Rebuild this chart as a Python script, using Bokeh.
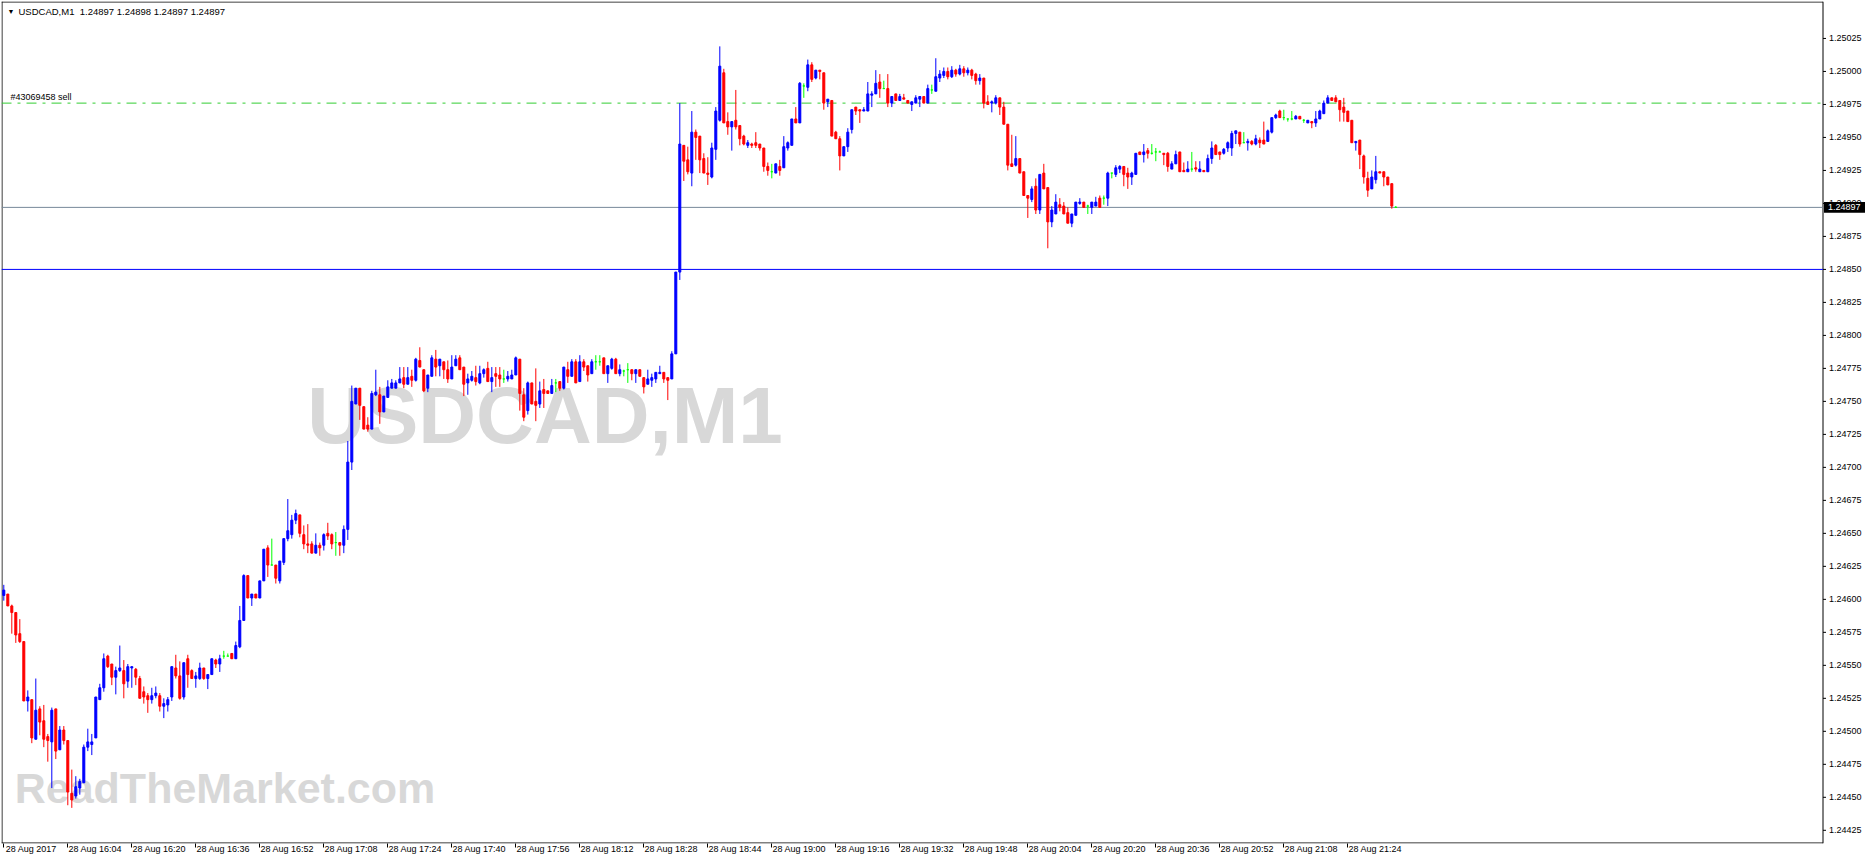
from bokeh.plotting import figure
from bokeh.models import Range1d, FixedTicker, Label, ColumnDataSource
from bokeh.core.properties import value
from bokeh.embed import file_html
from bokeh.resources import INLINE

# ---------------- data (USDCAD, M1, 28 Aug 2017, from 15:48) ----------------
opens = [
 1.24603,1.24604,1.24595,1.24590,1.24574,1.24568,1.24523,1.24524,1.24494,1.24517,
 1.24508,1.24496,1.24492,1.24517,1.24486,1.24501,1.24493,1.24453,1.24451,1.24457,
 1.24461,1.24488,1.24490,1.24495,1.24524,1.24533,1.24557,1.24551,1.24541,1.24546,
 1.24546,1.24538,1.24548,1.24547,1.24540,1.24530,1.24527,1.24524,1.24527,1.24527,
 1.24519,1.24520,1.24526,1.24548,1.24542,1.24526,1.24555,1.24546,1.24540,1.24540,
 1.24548,1.24540,1.24543,1.24554,1.24551,1.24557,1.24557,1.24559,1.24555,1.24564,
 1.24584,1.24618,1.24601,1.24604,1.24601,1.24614,1.24639,1.24626,1.24626,1.24614,
 1.24628,1.24646,1.24649,1.24660,1.24664,1.24649,1.24642,1.24642,1.24635,1.24641,
 1.24641,1.24650,1.24649,1.24643,1.24643,1.24641,1.24653,1.24704,1.24748,1.24760,
 1.24746,1.24732,1.24729,1.24755,1.24755,1.24742,1.24753,1.24760,1.24760,1.24764,
 1.24768,1.24763,1.24769,1.24766,1.24781,1.24774,1.24760,1.24769,1.24782,1.24777,
 1.24780,1.24774,1.24767,1.24777,1.24783,1.24776,1.24764,1.24766,1.24768,1.24764,
 1.24771,1.24775,1.24765,1.24771,1.24770,1.24767,1.24767,1.24767,1.24770,1.24782,
 1.24755,1.24743,1.24764,1.24750,1.24748,1.24759,1.24758,1.24756,1.24764,1.24765,
 1.24760,1.24774,1.24769,1.24780,1.24765,1.24780,1.24777,1.24771,1.24780,1.24780,
 1.24783,1.24771,1.24775,1.24782,1.24771,1.24773,1.24774,1.24774,1.24771,1.24774,
 1.24768,1.24763,1.24766,1.24767,1.24771,1.24772,1.24768,1.24767,1.24786,1.24848,
 1.24944,1.24933,1.24923,1.24954,1.24951,1.24934,1.24923,1.24920,1.24941,1.24963,
 1.24999,1.24962,1.24958,1.24963,1.24959,1.24951,1.24944,1.24945,1.24946,1.24945,
 1.24942,1.24928,1.24924,1.24923,1.24928,1.24927,1.24942,1.24944,1.24964,1.24961,
 1.24989,1.24988,1.25005,1.24995,1.25001,1.24999,1.24977,1.24978,1.24954,1.24949,
 1.24936,1.24943,1.24956,1.24973,1.24971,1.24970,1.24970,1.24982,1.24983,1.24992,
 1.24987,1.24987,1.24976,1.24983,1.24978,1.24980,1.24978,1.24975,1.24976,1.24979,
 1.24981,1.24976,1.24986,1.24985,1.24995,1.24997,1.25000,1.24996,1.25001,1.24998,
 1.25002,1.24999,1.25001,1.24998,1.24993,1.24995,1.24977,1.24976,1.24976,1.24980,
 1.24973,1.24960,1.24930,1.24929,1.24934,1.24924,1.24906,1.24903,1.24913,1.24895,
 1.24923,1.24912,1.24886,1.24892,1.24899,1.24898,1.24893,1.24885,1.24891,1.24900,
 1.24901,1.24898,1.24897,1.24898,1.24904,1.24904,1.24904,1.24923,1.24922,1.24926,
 1.24928,1.24923,1.24920,1.24922,1.24939,1.24937,1.24940,1.24938,1.24939,1.24939,
 1.24938,1.24938,1.24926,1.24930,1.24939,1.24925,1.24924,1.24926,1.24927,1.24924,
 1.24925,1.24924,1.24934,1.24944,1.24939,1.24938,1.24942,1.24942,1.24953,1.24954,
 1.24946,1.24946,1.24947,1.24945,1.24948,1.24948,1.24947,1.24954,1.24965,1.24970,
 1.24965,1.24964,1.24964,1.24964,1.24966,1.24963,1.24961,1.24962,1.24961,1.24964,
 1.24968,1.24976,1.24980,1.24980,1.24978,1.24973,1.24970,1.24963,1.24946,1.24948,
 1.24936,1.24919,1.24911,1.24918,1.24924,1.24924,1.24920,1.24915,1.24897]

highs = [
 1.24611,1.24604,1.24596,1.24590,1.24585,1.24568,1.24531,1.24524,1.24540,1.24519,
 1.24520,1.24498,1.24518,1.24517,1.24504,1.24504,1.24493,1.24471,1.24466,1.24464,
 1.24490,1.24502,1.24498,1.24526,1.24536,1.24559,1.24558,1.24551,1.24549,1.24565,
 1.24554,1.24551,1.24549,1.24548,1.24542,1.24534,1.24529,1.24533,1.24534,1.24529,
 1.24525,1.24526,1.24549,1.24558,1.24553,1.24552,1.24558,1.24547,1.24545,1.24552,
 1.24548,1.24543,1.24555,1.24555,1.24558,1.24561,1.24559,1.24559,1.24568,1.24595,
 1.24619,1.24618,1.24604,1.24604,1.24614,1.24638,1.24641,1.24646,1.24626,1.24629,
 1.24646,1.24676,1.24664,1.24668,1.24664,1.24656,1.24657,1.24644,1.24650,1.24643,
 1.24650,1.24658,1.24650,1.24651,1.24643,1.24656,1.24720,1.24762,1.24760,1.24760,
 1.24746,1.24738,1.24758,1.24774,1.24761,1.24754,1.24766,1.24767,1.24766,1.24776,
 1.24776,1.24776,1.24774,1.24783,1.24791,1.24774,1.24770,1.24785,1.24789,1.24782,
 1.24780,1.24781,1.24785,1.24785,1.24785,1.24776,1.24771,1.24773,1.24777,1.24777,
 1.24775,1.24780,1.24776,1.24776,1.24776,1.24774,1.24773,1.24774,1.24784,1.24782,
 1.24760,1.24765,1.24764,1.24775,1.24765,1.24767,1.24758,1.24767,1.24767,1.24765,
 1.24776,1.24780,1.24782,1.24782,1.24785,1.24782,1.24777,1.24782,1.24785,1.24785,
 1.24783,1.24777,1.24783,1.24783,1.24778,1.24774,1.24779,1.24774,1.24774,1.24774,
 1.24768,1.24774,1.24771,1.24772,1.24777,1.24772,1.24768,1.24788,1.24848,1.24976,
 1.24944,1.24943,1.24970,1.24956,1.24951,1.24938,1.24935,1.24946,1.24973,1.25019,
 1.25002,1.24969,1.24962,1.24986,1.24959,1.24952,1.24948,1.24946,1.24954,1.24945,
 1.24942,1.24931,1.24930,1.24930,1.24933,1.24951,1.24947,1.24964,1.24973,1.24992,
 1.24991,1.25009,1.25007,1.25001,1.25001,1.24999,1.24979,1.24978,1.24955,1.24951,
 1.24943,1.24957,1.24971,1.24973,1.24971,1.24973,1.24992,1.24985,1.25001,1.24998,
 1.24993,1.24998,1.24981,1.24983,1.24983,1.24983,1.24978,1.24977,1.24982,1.24981,
 1.24981,1.24990,1.24990,1.25010,1.25001,1.25003,1.25003,1.25004,1.25002,1.25005,
 1.25004,1.25003,1.25002,1.24999,1.24998,1.24995,1.24982,1.24978,1.24982,1.24980,
 1.24977,1.24960,1.24952,1.24951,1.24934,1.24924,1.24906,1.24913,1.24919,1.24922,
 1.24930,1.24912,1.24898,1.24907,1.24904,1.24901,1.24897,1.24892,1.24901,1.24904,
 1.24901,1.24899,1.24901,1.24905,1.24906,1.24906,1.24924,1.24923,1.24929,1.24929,
 1.24928,1.24927,1.24924,1.24938,1.24939,1.24945,1.24942,1.24945,1.24942,1.24940,
 1.24938,1.24939,1.24932,1.24940,1.24939,1.24931,1.24932,1.24939,1.24932,1.24932,
 1.24925,1.24937,1.24947,1.24945,1.24939,1.24942,1.24947,1.24955,1.24955,1.24954,
 1.24954,1.24949,1.24948,1.24952,1.24950,1.24962,1.24956,1.24965,1.24968,1.24971,
 1.24971,1.24964,1.24970,1.24967,1.24966,1.24964,1.24963,1.24962,1.24970,1.24971,
 1.24978,1.24982,1.24980,1.24982,1.24978,1.24980,1.24970,1.24963,1.24947,1.24948,
 1.24937,1.24924,1.24925,1.24936,1.24924,1.24924,1.24920,1.24915,1.24898]

lows = [
 1.24599,1.24595,1.24574,1.24567,1.24567,1.24523,1.24515,1.24491,1.24494,1.24497,
 1.24488,1.24477,1.24457,1.24479,1.24486,1.24490,1.24444,1.24442,1.24449,1.24452,
 1.24461,1.24485,1.24482,1.24495,1.24524,1.24530,1.24548,1.24535,1.24528,1.24545,
 1.24525,1.24533,1.24533,1.24535,1.24525,1.24521,1.24514,1.24521,1.24525,1.24515,
 1.24510,1.24515,1.24523,1.24540,1.24524,1.24524,1.24533,1.24540,1.24533,1.24539,
 1.24539,1.24532,1.24543,1.24548,1.24545,1.24555,1.24557,1.24555,1.24555,1.24563,
 1.24584,1.24601,1.24595,1.24601,1.24601,1.24614,1.24617,1.24626,1.24612,1.24612,
 1.24626,1.24644,1.24646,1.24657,1.24647,1.24638,1.24635,1.24635,1.24635,1.24633,
 1.24637,1.24645,1.24638,1.24633,1.24633,1.24635,1.24645,1.24698,1.24748,1.24736,
 1.24729,1.24727,1.24729,1.24754,1.24733,1.24742,1.24753,1.24760,1.24760,1.24764,
 1.24760,1.24763,1.24761,1.24765,1.24776,1.24757,1.24757,1.24769,1.24769,1.24769,
 1.24767,1.24764,1.24767,1.24777,1.24774,1.24754,1.24755,1.24765,1.24762,1.24763,
 1.24768,1.24765,1.24757,1.24761,1.24761,1.24764,1.24765,1.24767,1.24770,1.24743,
 1.24735,1.24740,1.24748,1.24735,1.24745,1.24745,1.24756,1.24756,1.24757,1.24758,
 1.24759,1.24764,1.24769,1.24764,1.24765,1.24773,1.24765,1.24771,1.24774,1.24777,
 1.24771,1.24764,1.24774,1.24771,1.24769,1.24769,1.24764,1.24766,1.24764,1.24769,
 1.24756,1.24763,1.24761,1.24764,1.24771,1.24764,1.24751,1.24767,1.24786,1.24842,
 1.24917,1.24922,1.24913,1.24933,1.24923,1.24923,1.24914,1.24919,1.24933,1.24962,
 1.24961,1.24952,1.24940,1.24956,1.24944,1.24944,1.24942,1.24942,1.24942,1.24940,
 1.24924,1.24921,1.24919,1.24923,1.24921,1.24927,1.24940,1.24944,1.24961,1.24961,
 1.24980,1.24985,1.24992,1.24994,1.24994,1.24971,1.24973,1.24951,1.24949,1.24925,
 1.24936,1.24939,1.24953,1.24967,1.24961,1.24970,1.24970,1.24973,1.24983,1.24980,
 1.24987,1.24973,1.24973,1.24978,1.24978,1.24979,1.24976,1.24970,1.24976,1.24973,
 1.24976,1.24976,1.24983,1.24985,1.24992,1.24995,1.24994,1.24995,1.24996,1.24997,
 1.24996,1.24997,1.24994,1.24990,1.24990,1.24972,1.24975,1.24969,1.24975,1.24967,
 1.24960,1.24925,1.24928,1.24928,1.24923,1.24906,1.24889,1.24901,1.24892,1.24892,
 1.24911,1.24866,1.24882,1.24892,1.24894,1.24892,1.24885,1.24882,1.24891,1.24899,
 1.24897,1.24892,1.24892,1.24898,1.24897,1.24899,1.24898,1.24919,1.24920,1.24923,
 1.24913,1.24911,1.24914,1.24922,1.24937,1.24931,1.24934,1.24937,1.24932,1.24939,
 1.24929,1.24924,1.24926,1.24930,1.24924,1.24924,1.24924,1.24924,1.24924,1.24924,
 1.24924,1.24924,1.24930,1.24937,1.24933,1.24937,1.24939,1.24936,1.24945,1.24943,
 1.24946,1.24940,1.24944,1.24944,1.24942,1.24945,1.24947,1.24953,1.24964,1.24965,
 1.24963,1.24962,1.24963,1.24964,1.24964,1.24961,1.24961,1.24957,1.24958,1.24964,
 1.24968,1.24976,1.24978,1.24977,1.24962,1.24962,1.24962,1.24946,1.24940,1.24926,
 1.24915,1.24905,1.24911,1.24915,1.24923,1.24913,1.24914,1.24896,1.24897]

closes = [
 1.24607,1.24595,1.24590,1.24573,1.24568,1.24523,1.24526,1.24495,1.24516,1.24507,
 1.24494,1.24493,1.24516,1.24485,1.24501,1.24493,1.24454,1.24448,1.24458,1.24462,
 1.24488,1.24492,1.24492,1.24526,1.24533,1.24555,1.24549,1.24541,1.24546,1.24548,
 1.24536,1.24549,1.24549,1.24541,1.24525,1.24526,1.24524,1.24527,1.24529,1.24519,
 1.24521,1.24524,1.24549,1.24542,1.24525,1.24552,1.24543,1.24540,1.24542,1.24548,
 1.24540,1.24543,1.24555,1.24551,1.24555,1.24557,1.24557,1.24555,1.24565,1.24584,
 1.24618,1.24601,1.24604,1.24601,1.24614,1.24638,1.24626,1.24626,1.24616,1.24629,
 1.24646,1.24652,1.24660,1.24665,1.24650,1.24642,1.24641,1.24635,1.24641,1.24639,
 1.24649,1.24648,1.24642,1.24643,1.24641,1.24653,1.24704,1.24750,1.24760,1.24747,
 1.24729,1.24729,1.24756,1.24757,1.24742,1.24754,1.24761,1.24764,1.24764,1.24767,
 1.24763,1.24768,1.24766,1.24782,1.24776,1.24758,1.24770,1.24783,1.24776,1.24782,
 1.24774,1.24767,1.24776,1.24782,1.24774,1.24763,1.24767,1.24769,1.24765,1.24771,
 1.24774,1.24765,1.24768,1.24769,1.24767,1.24767,1.24769,1.24770,1.24783,1.24756,
 1.24738,1.24764,1.24748,1.24747,1.24758,1.24756,1.24756,1.24762,1.24764,1.24760,
 1.24776,1.24769,1.24780,1.24764,1.24780,1.24776,1.24770,1.24780,1.24780,1.24780,
 1.24771,1.24777,1.24782,1.24771,1.24774,1.24773,1.24774,1.24771,1.24774,1.24769,
 1.24761,1.24767,1.24768,1.24772,1.24772,1.24767,1.24766,1.24786,1.24848,1.24945,
 1.24932,1.24924,1.24954,1.24950,1.24933,1.24923,1.24922,1.24942,1.24970,1.25004,
 1.24961,1.24958,1.24962,1.24958,1.24949,1.24945,1.24946,1.24944,1.24944,1.24942,
 1.24928,1.24925,1.24924,1.24930,1.24925,1.24943,1.24946,1.24964,1.24961,1.24991,
 1.24989,1.25005,1.24994,1.25001,1.25000,1.24976,1.24979,1.24951,1.24949,1.24936,
 1.24943,1.24954,1.24971,1.24970,1.24970,1.24971,1.24983,1.24983,1.24991,1.24987,
 1.24987,1.24976,1.24981,1.24978,1.24981,1.24979,1.24976,1.24977,1.24980,1.24981,
 1.24976,1.24987,1.24986,1.24996,1.24998,1.25000,1.24996,1.25001,1.24998,1.25002,
 1.24999,1.25001,1.24997,1.24993,1.24995,1.24976,1.24975,1.24977,1.24980,1.24973,
 1.24960,1.24929,1.24928,1.24934,1.24923,1.24906,1.24904,1.24911,1.24895,1.24922,
 1.24911,1.24886,1.24895,1.24901,1.24897,1.24892,1.24885,1.24892,1.24901,1.24901,
 1.24897,1.24898,1.24901,1.24901,1.24897,1.24904,1.24923,1.24923,1.24927,1.24928,
 1.24922,1.24920,1.24923,1.24938,1.24937,1.24939,1.24938,1.24938,1.24939,1.24939,
 1.24937,1.24928,1.24930,1.24937,1.24924,1.24924,1.24926,1.24926,1.24926,1.24926,
 1.24924,1.24934,1.24942,1.24937,1.24937,1.24941,1.24946,1.24953,1.24955,1.24945,
 1.24946,1.24947,1.24945,1.24949,1.24946,1.24945,1.24955,1.24965,1.24967,1.24965,
 1.24965,1.24964,1.24964,1.24966,1.24964,1.24963,1.24963,1.24961,1.24964,1.24970,
 1.24976,1.24980,1.24978,1.24977,1.24971,1.24969,1.24962,1.24946,1.24947,1.24937,
 1.24920,1.24910,1.24920,1.24924,1.24923,1.24920,1.24914,1.24898,1.24897]

time_labels = ["28 Aug 2017", "28 Aug 16:04", "28 Aug 16:20", "28 Aug 16:36", "28 Aug 16:52",
               "28 Aug 17:08", "28 Aug 17:24", "28 Aug 17:40", "28 Aug 17:56", "28 Aug 18:12",
               "28 Aug 18:28", "28 Aug 18:44", "28 Aug 19:00", "28 Aug 19:16", "28 Aug 19:32",
               "28 Aug 19:48", "28 Aug 20:04", "28 Aug 20:20", "28 Aug 20:36", "28 Aug 20:52",
               "28 Aug 21:08", "28 Aug 21:24"]
bars_per_label = 16

price_ticks = [1.24425, 1.24450, 1.24475, 1.24500, 1.24525, 1.24550, 1.24575, 1.24600,
               1.24625, 1.24650, 1.24675, 1.24700, 1.24725, 1.24750, 1.24775, 1.24800,
               1.24825, 1.24850, 1.24875, 1.24900, 1.24925, 1.24950, 1.24975, 1.25000, 1.25025]

order_level = 1.24976      # "#43069458 sell"
bid_level = 1.24897        # current price line
hline_level = 1.24850      # horizontal line
title_text = "USDCAD,M1\u00a0\u00a01.24897 1.24898 1.24897 1.24897"
order_text = "#43069458 sell"
bid_text = "1.24897"

# ---------------- layout constants ----------------
W, H = 1865, 856
FRAME_LEFT = 1
PX_PER_BAR = 4.0
X0 = (FRAME_LEFT - 3.3) / PX_PER_BAR           # first candle ~3px from the left edge
X1 = X0 + (W - FRAME_LEFT) / PX_PER_BAR
X_AX = X0 + (1822.5 - FRAME_LEFT) / PX_PER_BAR  # price-scale line
FRAME_H = 843.0
Y1 = 1.25053
Y0 = 1.24415
DY = (Y1 - Y0) / FRAME_H                        # price per pixel
FONT = "Liberation Sans"

# ---------------- build ----------------
BULL, BEAR, DOJI = "#0000FF", "#FF0000", "#00FF00"
n = len(opens)
xs = list(range(n))
colors = [BULL if c > o else (BEAR if c < o else DOJI) for o, c in zip(opens, closes)]
src = ColumnDataSource(dict(
    x=xs, high=highs, low=lows,
    top=[max(o, c) for o, c in zip(opens, closes)],
    bottom=[min(o, c) for o, c in zip(opens, closes)],
    color=colors))

p = figure(width=W, height=H, output_backend="svg", toolbar_location=None,
           x_range=Range1d(X0, X1), y_range=Range1d(Y0, Y1),
           y_axis_location=None,
           min_border_left=FRAME_LEFT, min_border_top=1, min_border_right=0, min_border_bottom=0)
p.background_fill_color = "white"
p.border_fill_color = "white"
p.outline_line_color = None
p.grid.visible = False

# x axis: tick marks as minor ticks, labels placed right of each tick
tick_pos = [k * bars_per_label for k in range(len(time_labels))]
label_pos = [t + 6.85 for t in tick_pos]
xa = p.xaxis[0]
xa.ticker = FixedTicker(ticks=label_pos, minor_ticks=tick_pos)
xa.major_label_overrides = {lp: lab for lp, lab in zip(label_pos, time_labels)}
xa.major_label_text_font = FONT
xa.major_label_text_font_size = "9px"
xa.major_label_text_color = "black"
xa.major_tick_in = 0
xa.major_tick_out = 0
xa.minor_tick_in = 0
xa.minor_tick_out = 4
xa.minor_tick_line_color = "black"
xa.major_label_standoff = -4
xa.axis_line_color = None

# watermarks (drawn first, under the candles)
WM = "#D8D8D8"
p.text(x=[135.3], y=[1.24739], text=["USDCAD,M1"], text_font=value("Liberation Sans"),
       text_font_style="bold", text_font_size="80px", text_color=WM,
       text_align="center", text_baseline="middle")
p.text(x=[55.3], y=[1.24457], text=["ReadTheMarket.com"], text_font=value("Liberation Sans"),
       text_font_style="bold", text_font_size="43px", text_color=WM,
       text_align="center", text_baseline="middle")

# frame border (left, top, bottom) and price-scale line
p.segment(x0=[X0 + 0.5 / PX_PER_BAR, X0, X0, X_AX],
          y0=[Y0, Y1 - 0.5 * DY, Y0 + 0.5 * DY, Y0],
          x1=[X0 + 0.5 / PX_PER_BAR, X_AX, X_AX, X_AX],
          y1=[Y1, Y1 - 0.5 * DY, Y0 + 0.5 * DY, Y1],
          line_color="black", line_width=1)

# horizontal levels (stop at the price scale)
p.segment(x0=[X0], y0=[hline_level], x1=[X_AX], y1=[hline_level], line_color="#0000FF", line_width=1)
p.segment(x0=[X0], y0=[bid_level], x1=[X_AX], y1=[bid_level], line_color="#778899", line_width=1)
p.segment(x0=[X0], y0=[order_level], x1=[X_AX], y1=[order_level], line_color="#32CD32",
          line_width=1, line_dash="10 6 3 6")

# candles
p.segment(x0="x", y0="high", x1="x", y1="low", line_color="color", line_width=1, source=src)
p.vbar(x="x", width=0.5, top="top", bottom="bottom", fill_color="color",
       line_color="color", line_width=1, source=src)

# price scale: ticks and labels
nt = len(price_ticks)
p.segment(x0=[X_AX] * nt, y0=price_ticks, x1=[X_AX + 3 / PX_PER_BAR] * nt, y1=price_ticks,
          line_color="black", line_width=1)
p.text(x=[X_AX + 6 / PX_PER_BAR] * nt, y=price_ticks, text=[f"{t:.5f}" for t in price_ticks],
       text_font=value(FONT), text_font_size="9px", text_color="black",
       text_align="left", text_baseline="middle")

# current price box
p.quad(left=[X_AX + 1 / PX_PER_BAR], right=[X1 + 1], bottom=[bid_level - 5.5 * DY],
       top=[bid_level + 5.5 * DY], fill_color="black", line_color=None)
p.text(x=[X_AX + 5 / PX_PER_BAR], y=[bid_level], text=[bid_text],
       text_font=value(FONT), text_font_size="9px", text_color="white",
       text_align="left", text_baseline="middle")

# texts
p.add_layout(Label(x=X0, y=Y1, x_offset=6, y_offset=-10, text="\u25bc",
                   text_font_size="7px", text_color="black", text_baseline="middle"))
p.add_layout(Label(x=X0, y=Y1, x_offset=17, y_offset=-10, text=title_text,
                   text_font=FONT, text_font_size="9.5px", text_color="black",
                   text_baseline="middle"))
p.add_layout(Label(x=X0, y=order_level, x_offset=9, y_offset=6, text=order_text,
                   text_font=FONT, text_font_size="9px", text_color="black",
                   text_baseline="middle"))

open("out.html", "w").write(file_html(p, INLINE))
